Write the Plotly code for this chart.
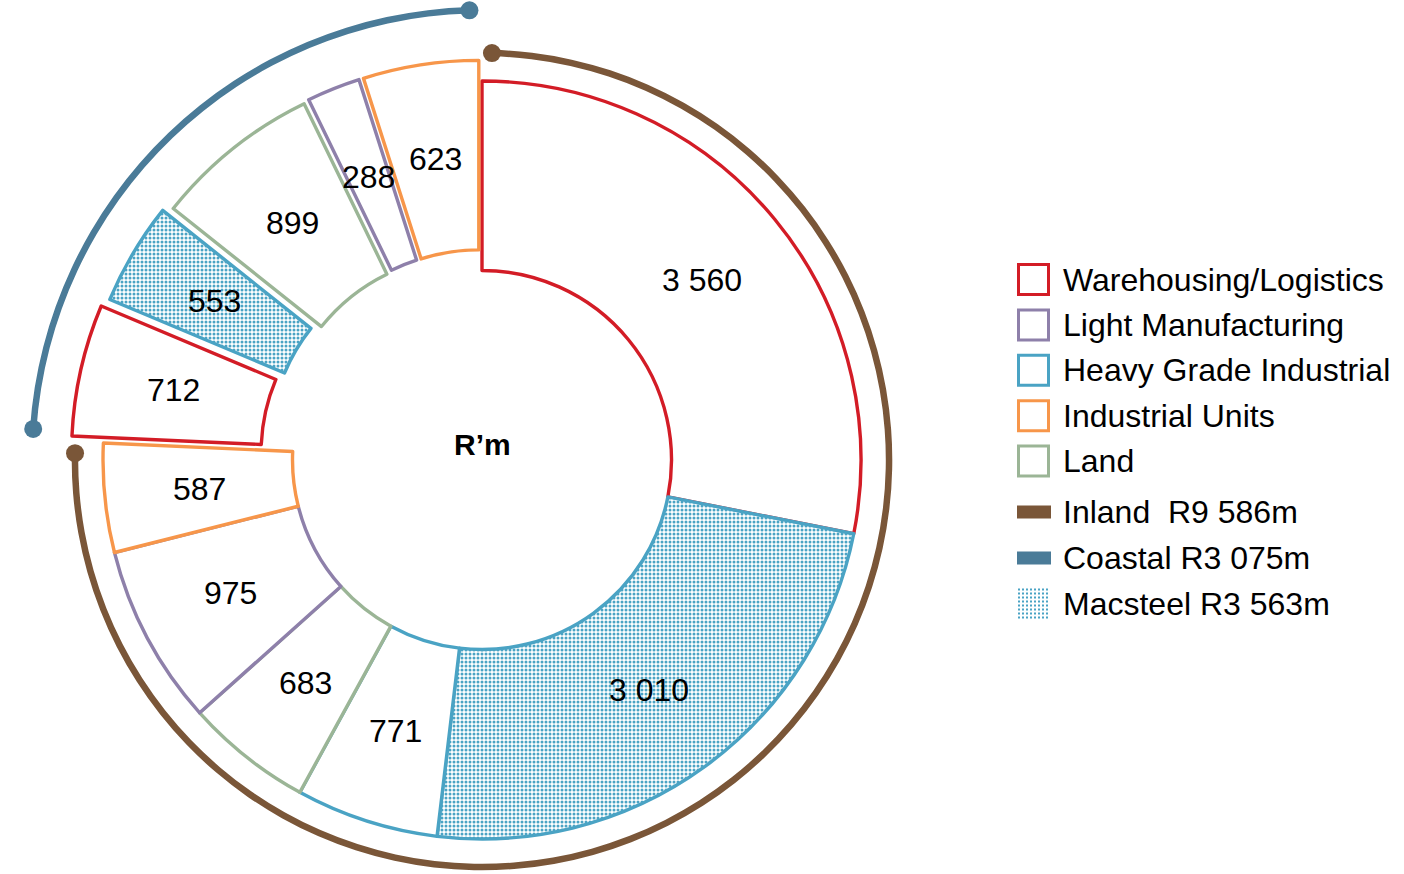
import base64
import numpy as np
import plotly.graph_objects as go

# ---------------- data ----------------
slice_values = [3560, 3010, 771, 683, 975, 587, 712, 553, 899, 288, 623]
slice_category = ["Warehousing/Logistics", "Heavy Grade Industrial", "Heavy Grade Industrial",
                  "Land", "Light Manufacturing", "Industrial Units",
                  "Warehousing/Logistics", "Heavy Grade Industrial", "Land",
                  "Light Manufacturing", "Industrial Units"]
slice_region = ["Inland"] * 6 + ["Coastal"] * 5
slice_macsteel = [False, True, False, False, False, False, False, True, False, False, False]
slice_pull = [0, 0, 0, 0, 0, 0, 0.085, 0.07, 0.052, 0.055, 0.055]

categories = ["Warehousing/Logistics", "Light Manufacturing", "Heavy Grade Industrial",
              "Industrial Units", "Land"]
category_colors = ["#D31C26", "#8E80AA", "#4AA3C4", "#F7964A", "#9BB596"]
regions = ["Inland", "Coastal"]
region_legend_names = ["Inland\u00a0", "Coastal"]
region_colors = ["#7A5638", "#4A7B98"]
macsteel_name = "Macsteel"
center_label = "R\u2019m"

# ---------------- style / layout constants ----------------
W, H = 1404, 874
FONT = "Liberation Sans, Arial, sans-serif"
CX, CY = 482, 460            # pie centre in px (from top-left)
R_PIE = 379                  # pie outer radius in px
HOLE = 0.5
MAXPULL = max(slice_pull)
REGION_R = [1.074, 1.187]    # arc radius in pie-radius units
ARC_T = 6.5 / R_PIE          # arc thickness
ARC_GAP_START, ARC_GAP_END = 1.4, 1.6
POLAR2_R = 1.2
LABEL_SIZE = 32


def fmt(v):
    return f"{v:,}".replace(",", " ")


def px_x(x):
    return x / W


def px_y(y):
    return 1 - y / H


cat_color = dict(zip(categories, category_colors))
line_colors = [cat_color[c] for c in slice_category]

vals = np.array(slice_values, dtype=float)
total = vals.sum()
starts = 360 * (np.cumsum(vals) - vals) / total
mids = starts + 180 * vals / total

# pie domain
half = R_PIE * (1 + MAXPULL)
dom_x = [px_x(CX - half), px_x(CX + half)]
dom_y = [(H - CY - half) / H, (H - CY + half) / H]
# polar2 (upper-left quadrant) domain
half2 = R_PIE * POLAR2_R
dom2_x = [px_x(CX - half2), px_x(CX)]
dom2_y = [(H - CY) / H, (H - CY + half2) / H]

fig = go.Figure()

# invisible cartesian trace, to host label annotations in pie units
fig.add_trace(go.Scatter(x=[0], y=[0], mode="markers", marker=dict(opacity=0),
                         hoverinfo="skip", showlegend=False))

# region arcs
region_totals = [vals[[r == reg for r in slice_region]].sum() for reg in regions]
region_start = 0.0
for i, reg in enumerate(regions):
    span = 360 * region_totals[i] / total
    a0 = region_start + ARC_GAP_START
    a1 = region_start + span - ARC_GAP_END
    sub = "polar" if i == 0 else "polar2"
    fig.add_trace(go.Barpolar(theta=[(a0 + a1) / 2], width=[a1 - a0],
                              base=[REGION_R[i] - ARC_T / 2], r=[ARC_T],
                              marker=dict(color=region_colors[i], line=dict(width=0)),
                              subplot=sub, showlegend=False, hoverinfo="skip"))
    fig.add_trace(go.Scatterpolar(theta=[a0, a1], r=[REGION_R[i], REGION_R[i]],
                                  mode="markers", cliponaxis=False,
                                  marker=dict(size=18, color=region_colors[i]),
                                  subplot=sub, showlegend=False, hoverinfo="skip"))
    region_start += span

# doughnut
fig.add_trace(go.Pie(
    values=slice_values,
    labels=[f"{c} {i}" for i, c in enumerate(slice_category)],
    sort=False, direction="clockwise", rotation=0, hole=HOLE,
    pull=slice_pull, textinfo="none", hoverinfo="skip", showlegend=False,
    domain=dict(x=dom_x, y=dom_y),
    marker=dict(colors=["white"] * len(slice_values),
                line=dict(color=line_colors, width=3.4),
                pattern=dict(shape=["." if m else "" for m in slice_macsteel],
                             fgcolor=cat_color["Heavy Grade Industrial"],
                             bgcolor="white", size=4, solidity=0.45)),
))

annotations = []
# slice value labels
for v, m, p in zip(slice_values, mids, slice_pull):
    rl = (1 + HOLE) / 2 + p
    annotations.append(dict(x=rl * np.sin(np.radians(m)), y=rl * np.cos(np.radians(m)),
                            xref="x", yref="y", text=fmt(v), showarrow=False,
                            font=dict(family=FONT, size=LABEL_SIZE, color="black")))
annotations.append(dict(x=0, y=0, xref="x", yref="y", text=f"<b>{center_label}</b>",
                        showarrow=False, yshift=16,
                        font=dict(family=FONT, size=30, color="black")))

# custom legend
shapes = []
LEG_X0, LEG_SQ, LEG_TX = 1017, 33, 1061
sq_rows = [279.5 + 45.4 * i for i in range(len(categories))]
for c, col, yc in zip(categories, category_colors, sq_rows):
    shapes.append(dict(type="rect", xref="paper", yref="paper",
                       x0=px_x(LEG_X0 + 1.5), x1=px_x(LEG_X0 + LEG_SQ - 1.5),
                       y0=px_y(yc - LEG_SQ / 2 + 1.5), y1=px_y(yc + LEG_SQ / 2 - 1.5),
                       line=dict(color=col, width=3), fillcolor="white"))
    annotations.append(dict(x=px_x(LEG_TX), y=px_y(yc), xref="paper", yref="paper",
                            xanchor="left", yanchor="middle", text=c, showarrow=False,
                            font=dict(family=FONT, size=32, color="black")))

line_rows = [512, 558]
for name, col, tot, yc in zip(region_legend_names, region_colors, region_totals, line_rows):
    shapes.append(dict(type="rect", xref="paper", yref="paper",
                       x0=px_x(LEG_X0), x1=px_x(LEG_X0 + 34),
                       y0=px_y(yc - 6.5), y1=px_y(yc + 6.5),
                       line=dict(width=0), fillcolor=col))
    annotations.append(dict(x=px_x(LEG_TX), y=px_y(yc), xref="paper", yref="paper",
                            xanchor="left", yanchor="middle",
                            text=f"{name} R{fmt(int(tot))}m", showarrow=False,
                            font=dict(family=FONT, size=32, color="black")))

mac_total = int(vals[slice_macsteel].sum())
mac_y = 603.5
svg = ('<svg xmlns="http://www.w3.org/2000/svg" width="32" height="32">'
       '<defs><pattern id="p" width="4" height="4" patternUnits="userSpaceOnUse">'
       f'<rect x="1" y="1" width="2" height="2" fill="{cat_color["Heavy Grade Industrial"]}"/>'
       '</pattern></defs><rect width="32" height="32" fill="url(#p)"/></svg>')
src = "data:image/svg+xml;base64," + base64.b64encode(svg.encode()).decode()
images = [dict(source=src, xref="paper", yref="paper", x=px_x(LEG_X0), y=px_y(mac_y - 16),
               sizex=32 / W, sizey=32 / H, xanchor="left", yanchor="top",
               sizing="stretch", layer="above")]
annotations.append(dict(x=px_x(LEG_TX), y=px_y(mac_y), xref="paper", yref="paper",
                        xanchor="left", yanchor="middle",
                        text=f"{macsteel_name} R{fmt(mac_total)}m", showarrow=False,
                        font=dict(family=FONT, size=32, color="black")))

hidden_ang = dict(visible=False, rotation=90, direction="clockwise")
fig.update_layout(
    width=W, height=H, margin=dict(l=0, r=0, t=0, b=0),
    paper_bgcolor="white", plot_bgcolor="rgba(0,0,0,0)",
    showlegend=False,
    xaxis=dict(visible=False, range=[-(1 + MAXPULL), 1 + MAXPULL], domain=dom_x, fixedrange=True),
    yaxis=dict(visible=False, range=[-(1 + MAXPULL), 1 + MAXPULL], domain=dom_y, fixedrange=True),
    polar=dict(domain=dict(x=dom_x, y=dom_y), bgcolor="rgba(0,0,0,0)",
               radialaxis=dict(visible=False, range=[0, 1 + MAXPULL]),
               angularaxis=hidden_ang),
    polar2=dict(domain=dict(x=dom2_x, y=dom2_y), bgcolor="rgba(0,0,0,0)", sector=[90, 180],
                radialaxis=dict(visible=False, range=[0, POLAR2_R]),
                angularaxis=hidden_ang),
    annotations=annotations, shapes=shapes, images=images,
)

fig.write_html("out.html")
